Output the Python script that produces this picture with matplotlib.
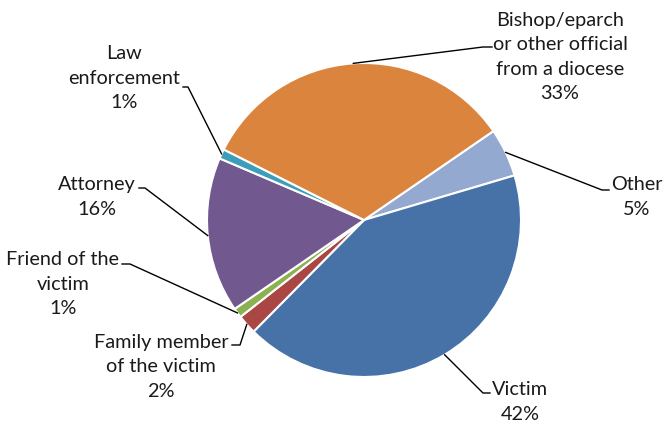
import numpy as np
import matplotlib.pyplot as plt

# data: who reported the allegation
labels = ['Other', 'Victim', 'Family member\nof the victim', 'Friend of the\nvictim',
          'Attorney', 'Law\nenforcement', 'Bishop/eparch\nor other official\nfrom a diocese']
values = [5, 42, 2, 1, 16, 1, 33]
colors = ['#93A9CF', '#4672A8', '#AA4643', '#8BB150', '#71588F', '#3E9EBA', '#DB843D']

# label layout in pixel coords (from top-left): text centre, elbow point, line end
text_pos = [(637, 197), (520, 402), (161, 367), (63, 284), (97, 197), (124, 78), (560, 57)]
elbow = [(602, 190), (483, 393), (240, 345), (130, 264), (145, 188), (188, 87), (483, 47)]
line_end = [(609, 190), (490, 393), (232, 345), (122, 264), (139, 188), (183, 87), (492, 47)]

W, H = 664, 425
cx, cy, r = 364, 220, 157

plt.rcParams['font.family'] = ['Lato', 'DejaVu Sans']

fig = plt.figure(figsize=(W / 100, H / 100), dpi=100)
ax = fig.add_axes([0, 0, 1, 1])

wedges, _ = ax.pie(values, colors=colors, startangle=34.5, counterclock=False,
                   center=(cx, H - cy), radius=r,
                   wedgeprops=dict(edgecolor='white', linewidth=1.5))

for w, lab, v, tp, el, le in zip(wedges, labels, values, text_pos, elbow, line_end):
    mid = np.deg2rad((w.theta1 + w.theta2) / 2)
    sx = cx + r * np.cos(mid)
    sy = (H - cy) + r * np.sin(mid)
    ax.plot([sx, el[0], le[0]], [sy, H - el[1], H - le[1]], color='black', lw=1)
    ax.text(tp[0], H - tp[1], f'{lab}\n{v}%', ha='center', va='center',
            multialignment='center', fontsize=14.3, linespacing=1.53, color='#1a1a1a')

ax.set_xlim(0, W)
ax.set_ylim(0, H)
ax.set_aspect('equal')
ax.axis('off')

plt.savefig('out.png', dpi=100)
